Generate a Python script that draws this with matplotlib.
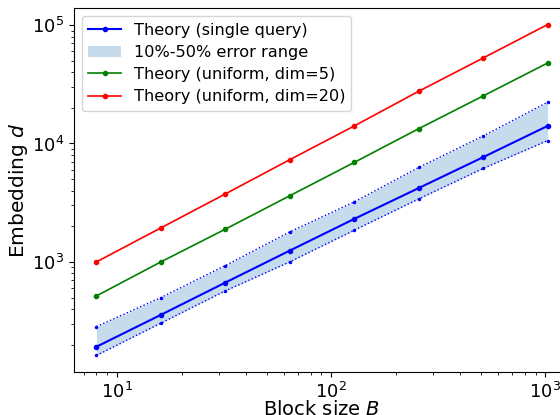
import numpy as np
import matplotlib
matplotlib.use("Agg")
import matplotlib.pyplot as plt

# block sizes
B = [8, 16, 32, 64, 128, 256, 512, 1024]

# embedding dimension
single = [192, 357, 669, 1245, 2306, 4200, 7660, 14060]
err_hi = [284, 500, 931, 1792, 3210, 6270, 11570, 22300]
err_lo = [162, 304, 569, 1000, 1850, 3400, 6150, 10570]
uni5 = [516, 1000, 1890, 3620, 6920, 13330, 25200, 47800]
uni20 = [1000, 1937, 3750, 7300, 14060, 27600, 52700, 101000]

fig = plt.figure(figsize=(5.6, 4.15), dpi=100)
ax = fig.add_axes([0.132, 0.1036, 0.886, 0.877])

ax.plot(B, single, 'b.-', lw=1.5, ms=6, label='Theory (single query)')
ax.fill_between(B, err_lo, err_hi, color='C0', alpha=0.25, lw=0,
                label='10%-50% error range')
ax.plot(B, err_hi, 'b.:', lw=1, ms=3)
ax.plot(B, err_lo, 'b.:', lw=1, ms=3)
ax.plot(B, uni5, 'g.-', lw=1.2, ms=6, label='Theory (uniform, dim=5)')
ax.plot(B, uni20, 'r.-', lw=1.2, ms=6, label='Theory (uniform, dim=20)')

ax.set_xscale('log')
ax.set_yscale('log')
ax.set_xlabel('Block size $B$', fontsize=14, labelpad=-1.5)
ax.set_ylabel('Embedding $d$', fontsize=14.5, labelpad=1)
ax.tick_params(labelsize=13)
ax.legend(fontsize=11.6, loc='upper left', labelspacing=0.45)

fig.savefig('out.png', dpi=100)
